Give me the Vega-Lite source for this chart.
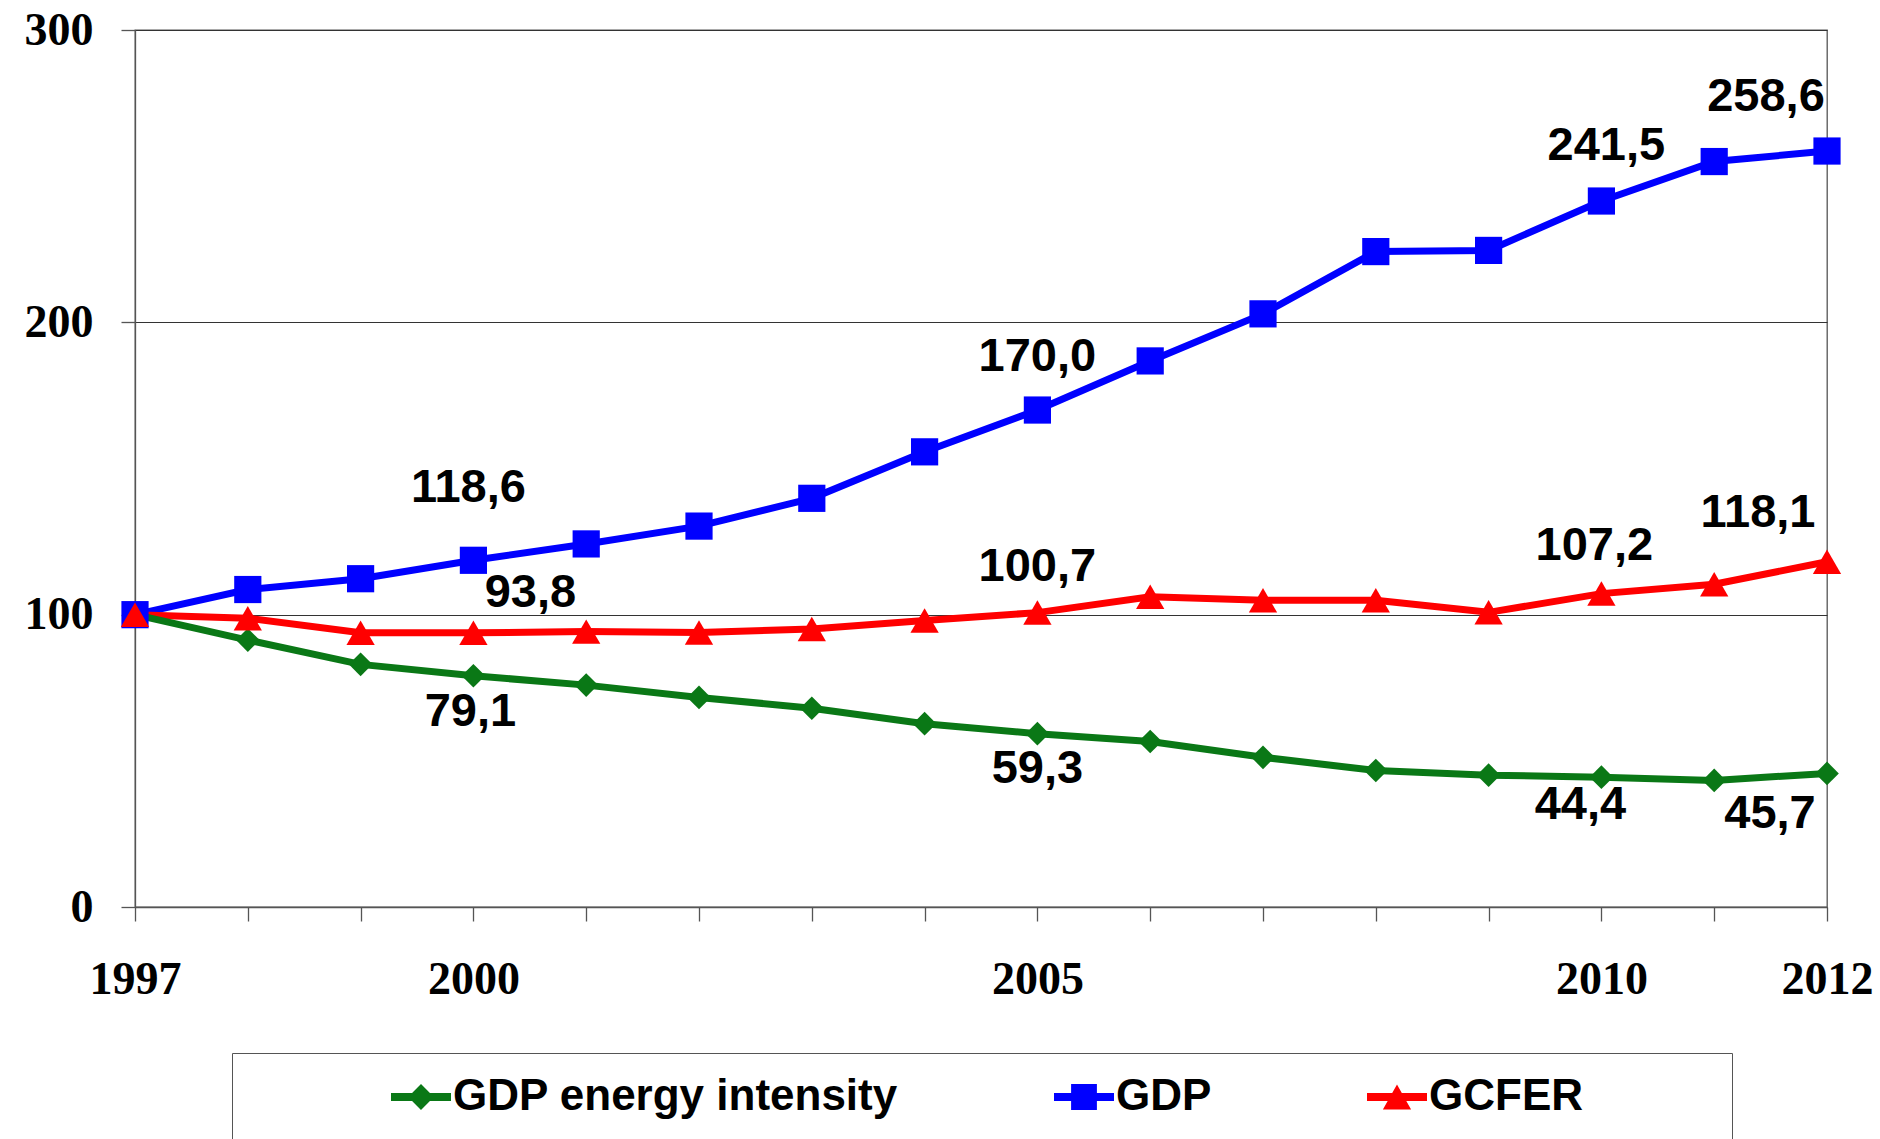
{
  "$schema": "https://vega.github.io/schema/vega-lite/v6.json",
  "autosize": {"type": "none"},
  "padding": {"left": 135, "top": 30, "right": 53, "bottom": 232},
  "width": 1692,
  "height": 877,
  "background": "white",
  "config": {"view": {"stroke": "#555", "strokeWidth": 1.3}},
  "data": {"values": [
    {"year": 1997, "series": "GDP", "value": 100},
    {"year": 1998, "series": "GDP", "value": 108.6},
    {"year": 1999, "series": "GDP", "value": 112.3},
    {"year": 2000, "series": "GDP", "value": 118.6, "label": "118,6"},
    {"year": 2001, "series": "GDP", "value": 124.2},
    {"year": 2002, "series": "GDP", "value": 130.3},
    {"year": 2003, "series": "GDP", "value": 139.8},
    {"year": 2004, "series": "GDP", "value": 155.7},
    {"year": 2005, "series": "GDP", "value": 170.0, "label": "170,0"},
    {"year": 2006, "series": "GDP", "value": 186.8},
    {"year": 2007, "series": "GDP", "value": 202.9},
    {"year": 2008, "series": "GDP", "value": 224.2},
    {"year": 2009, "series": "GDP", "value": 224.6},
    {"year": 2010, "series": "GDP", "value": 241.5, "label": "241,5"},
    {"year": 2011, "series": "GDP", "value": 255.0},
    {"year": 2012, "series": "GDP", "value": 258.6, "label": "258,6"},
    {"year": 1997, "series": "GCFER", "value": 100},
    {"year": 1998, "series": "GCFER", "value": 98.8},
    {"year": 1999, "series": "GCFER", "value": 93.8},
    {"year": 2000, "series": "GCFER", "value": 93.8, "label": "93,8"},
    {"year": 2001, "series": "GCFER", "value": 94.2},
    {"year": 2002, "series": "GCFER", "value": 93.9},
    {"year": 2003, "series": "GCFER", "value": 95.1},
    {"year": 2004, "series": "GCFER", "value": 98.0},
    {"year": 2005, "series": "GCFER", "value": 100.7, "label": "100,7"},
    {"year": 2006, "series": "GCFER", "value": 106.1},
    {"year": 2007, "series": "GCFER", "value": 104.9},
    {"year": 2008, "series": "GCFER", "value": 104.9},
    {"year": 2009, "series": "GCFER", "value": 100.8},
    {"year": 2010, "series": "GCFER", "value": 107.2, "label": "107,2"},
    {"year": 2011, "series": "GCFER", "value": 110.4},
    {"year": 2012, "series": "GCFER", "value": 118.1, "label": "118,1"},
    {"year": 1997, "series": "GDP energy intensity", "value": 100},
    {"year": 1998, "series": "GDP energy intensity", "value": 91.3},
    {"year": 1999, "series": "GDP energy intensity", "value": 83.0},
    {"year": 2000, "series": "GDP energy intensity", "value": 79.1, "label": "79,1"},
    {"year": 2001, "series": "GDP energy intensity", "value": 75.9},
    {"year": 2002, "series": "GDP energy intensity", "value": 71.7},
    {"year": 2003, "series": "GDP energy intensity", "value": 68.0},
    {"year": 2004, "series": "GDP energy intensity", "value": 62.7},
    {"year": 2005, "series": "GDP energy intensity", "value": 59.3, "label": "59,3"},
    {"year": 2006, "series": "GDP energy intensity", "value": 56.6},
    {"year": 2007, "series": "GDP energy intensity", "value": 51.2},
    {"year": 2008, "series": "GDP energy intensity", "value": 46.7},
    {"year": 2009, "series": "GDP energy intensity", "value": 45.1},
    {"year": 2010, "series": "GDP energy intensity", "value": 44.4, "label": "44,4"},
    {"year": 2011, "series": "GDP energy intensity", "value": 43.3},
    {"year": 2012, "series": "GDP energy intensity", "value": 45.7, "label": "45,7"}
  ]},
  "encoding": {
    "x": {
      "field": "year", "type": "quantitative",
      "scale": {"domain": [1997, 2012], "nice": false, "zero": false},
      "axis": {
        "values": [1997, 1998, 1999, 2000, 2001, 2002, 2003, 2004, 2005, 2006, 2007, 2008, 2009, 2010, 2011, 2012],
        "format": "d",
        "labelExpr": "(datum.value == 1997 || datum.value == 2000 || datum.value == 2005 || datum.value == 2010 || datum.value == 2012) ? datum.label : ''",
        "title": null, "grid": false,
        "tickSize": 14, "tickColor": "#555", "tickWidth": 1.3,
        "domainColor": "#555", "domainWidth": 1.3,
        "labelFont": "Liberation Serif", "labelFontSize": 46, "labelFontWeight": "bold", "labelColor": "black",
        "labelPadding": 36, "labelFlush": false, "labelOverlap": false
      }
    },
    "y": {
      "field": "value", "type": "quantitative",
      "scale": {"domain": [0, 300], "nice": false, "zero": true},
      "axis": {
        "values": [0, 100, 200, 300],
        "title": null, "grid": true, "gridColor": "#333", "gridWidth": 1.2,
        "tickSize": 14, "tickColor": "#555", "tickWidth": 1.3,
        "domainColor": "#555", "domainWidth": 1.3,
        "labelFont": "Liberation Serif", "labelFontSize": 46, "labelFontWeight": "bold", "labelColor": "black",
        "labelPadding": 28
      }
    }
  },
  "layer": [
    {
      "mark": {"type": "point", "filled": true, "opacity": 0, "size": 3600, "strokeWidth": 0},
      "encoding": {
        "color": {
          "field": "series", "type": "nominal",
          "scale": {"domain": ["GDP energy intensity", "GDP", "GCFER"], "range": ["#0A7816", "#0000FF", "#FF0000"]},
          "legend": {
            "orient": "none", "legendX": 97, "legendY": 1023, "direction": "horizontal",
            "title": "\u200b\u00a0\u00a0\u00a0\u00a0\u00a0\u00a0\u00a0\u00a0\u00a0\u00a0\u00a0\u00a0\u00a0\u00a0\u00a0\u00a0\u00a0\u00a0\u00a0\u00a0\u00a0\u00a0\u00a0\u00a0\u00a0\u00a0\u200b",
            "titleOrient": "left", "titleFontSize": 20, "titlePadding": 0,
            "padding": 14, "strokeColor": "#555", "fillColor": "white",
            "labelFont": "Liberation Sans", "labelFontWeight": "bold", "labelFontSize": 44, "labelColor": "black",
            "labelLimit": 2000, "labelOffset": 2,
            "labelExpr": "datum.label === 'GCFER' ? 'GCFER\u00a0\u00a0\u00a0\u00a0\u00a0\u00a0\u00a0\u00a0\u00a0\u00a0\u00a0\u200b' : datum.label",
            "symbolSize": 3600, "columnPadding": 155, "symbolStrokeWidth": 0, "symbolOpacity": 1
          }
        },
        "shape": {
          "field": "series", "type": "nominal",
          "scale": {
            "domain": ["GDP energy intensity", "GDP", "GCFER"],
            "range": [
              "M0,-1L0,-1Z M0,1L0,1Z M-1,-0.133H1V0.133H-1Z M0,-0.43L0.43,0L0,0.43L-0.43,0Z",
              "M0,-1L0,-1Z M0,1L0,1Z M-1,-0.133H1V0.133H-1Z M-0.43,-0.43H0.43V0.43H-0.43Z",
              "M0,-1L0,-1Z M0,1L0,1Z M-1,-0.133H1V0.133H-1Z M0,-0.42L0.47,0.42L-0.47,0.42Z"
            ]
          },
          "legend": {
            "orient": "none", "legendX": 97, "legendY": 1023, "direction": "horizontal",
            "title": "\u200b\u00a0\u00a0\u00a0\u00a0\u00a0\u00a0\u00a0\u00a0\u00a0\u00a0\u00a0\u00a0\u00a0\u00a0\u00a0\u00a0\u00a0\u00a0\u00a0\u00a0\u00a0\u00a0\u00a0\u00a0\u00a0\u00a0\u200b",
            "titleOrient": "left", "titleFontSize": 20, "titlePadding": 0,
            "padding": 14, "strokeColor": "#555", "fillColor": "white",
            "labelFont": "Liberation Sans", "labelFontWeight": "bold", "labelFontSize": 44, "labelColor": "black",
            "labelLimit": 2000, "labelOffset": 2,
            "labelExpr": "datum.label === 'GCFER' ? 'GCFER\u00a0\u00a0\u00a0\u00a0\u00a0\u00a0\u00a0\u00a0\u00a0\u00a0\u00a0\u200b' : datum.label",
            "symbolSize": 3600, "columnPadding": 155, "symbolStrokeWidth": 0, "symbolOpacity": 1
          }
        }
      }
    },
    {
      "mark": {"type": "line", "strokeWidth": 7},
      "encoding": {
        "color": {"field": "series", "type": "nominal", "legend": null}
      }
    },
    {
      "transform": [{"filter": "datum.series === 'GDP energy intensity'"}],
      "mark": {"type": "point", "filled": true, "opacity": 1, "shape": "diamond", "size": 560, "color": "#0A7816"}
    },
    {
      "transform": [{"filter": "datum.series === 'GDP'"}],
      "mark": {"type": "point", "filled": true, "opacity": 1, "shape": "square", "size": 740, "color": "#0000FF"}
    },
    {
      "transform": [{"filter": "datum.series === 'GCFER'"}],
      "mark": {"type": "point", "filled": true, "opacity": 1, "shape": "triangle-up", "size": 800, "color": "#FF0000"}
    },
    {
      "transform": [{"filter": "datum.series === 'GDP' && datum.year === 2000"}],
      "mark": {"type": "text", "font": "Liberation Sans", "fontWeight": "bold", "fontSize": 47, "color": "black", "baseline": "middle", "align": "center", "dx": -5, "dy": -72},
      "encoding": {"text": {"field": "label"}}
    },
    {
      "transform": [{"filter": "datum.series === 'GDP' && datum.year === 2005"}],
      "mark": {"type": "text", "font": "Liberation Sans", "fontWeight": "bold", "fontSize": 47, "color": "black", "baseline": "middle", "align": "center", "dx": 0, "dy": -53},
      "encoding": {"text": {"field": "label"}}
    },
    {
      "transform": [{"filter": "datum.series === 'GDP' && datum.year === 2010"}],
      "mark": {"type": "text", "font": "Liberation Sans", "fontWeight": "bold", "fontSize": 47, "color": "black", "baseline": "middle", "align": "center", "dx": 5, "dy": -55},
      "encoding": {"text": {"field": "label"}}
    },
    {
      "transform": [{"filter": "datum.series === 'GDP' && datum.year === 2012"}],
      "mark": {"type": "text", "font": "Liberation Sans", "fontWeight": "bold", "fontSize": 47, "color": "black", "baseline": "middle", "align": "center", "dx": -61, "dy": -54},
      "encoding": {"text": {"field": "label"}}
    },
    {
      "transform": [{"filter": "datum.series === 'GCFER' && datum.year === 2000"}],
      "mark": {"type": "text", "font": "Liberation Sans", "fontWeight": "bold", "fontSize": 47, "color": "black", "baseline": "middle", "align": "center", "dx": 57, "dy": -40},
      "encoding": {"text": {"field": "label"}}
    },
    {
      "transform": [{"filter": "datum.series === 'GCFER' && datum.year === 2005"}],
      "mark": {"type": "text", "font": "Liberation Sans", "fontWeight": "bold", "fontSize": 47, "color": "black", "baseline": "middle", "align": "center", "dx": 0, "dy": -46},
      "encoding": {"text": {"field": "label"}}
    },
    {
      "transform": [{"filter": "datum.series === 'GCFER' && datum.year === 2010"}],
      "mark": {"type": "text", "font": "Liberation Sans", "fontWeight": "bold", "fontSize": 47, "color": "black", "baseline": "middle", "align": "center", "dx": -7, "dy": -48},
      "encoding": {"text": {"field": "label"}}
    },
    {
      "transform": [{"filter": "datum.series === 'GCFER' && datum.year === 2012"}],
      "mark": {"type": "text", "font": "Liberation Sans", "fontWeight": "bold", "fontSize": 47, "color": "black", "baseline": "middle", "align": "center", "dx": -69, "dy": -49},
      "encoding": {"text": {"field": "label"}}
    },
    {
      "transform": [{"filter": "datum.series === 'GDP energy intensity' && datum.year === 2000"}],
      "mark": {"type": "text", "font": "Liberation Sans", "fontWeight": "bold", "fontSize": 47, "color": "black", "baseline": "middle", "align": "center", "dx": -3, "dy": 36},
      "encoding": {"text": {"field": "label"}}
    },
    {
      "transform": [{"filter": "datum.series === 'GDP energy intensity' && datum.year === 2005"}],
      "mark": {"type": "text", "font": "Liberation Sans", "fontWeight": "bold", "fontSize": 47, "color": "black", "baseline": "middle", "align": "center", "dx": 0, "dy": 35},
      "encoding": {"text": {"field": "label"}}
    },
    {
      "transform": [{"filter": "datum.series === 'GDP energy intensity' && datum.year === 2010"}],
      "mark": {"type": "text", "font": "Liberation Sans", "fontWeight": "bold", "fontSize": 47, "color": "black", "baseline": "middle", "align": "center", "dx": -21, "dy": 28},
      "encoding": {"text": {"field": "label"}}
    },
    {
      "transform": [{"filter": "datum.series === 'GDP energy intensity' && datum.year === 2012"}],
      "mark": {"type": "text", "font": "Liberation Sans", "fontWeight": "bold", "fontSize": 47, "color": "black", "baseline": "middle", "align": "center", "dx": -57, "dy": 41},
      "encoding": {"text": {"field": "label"}}
    }
  ]
}
